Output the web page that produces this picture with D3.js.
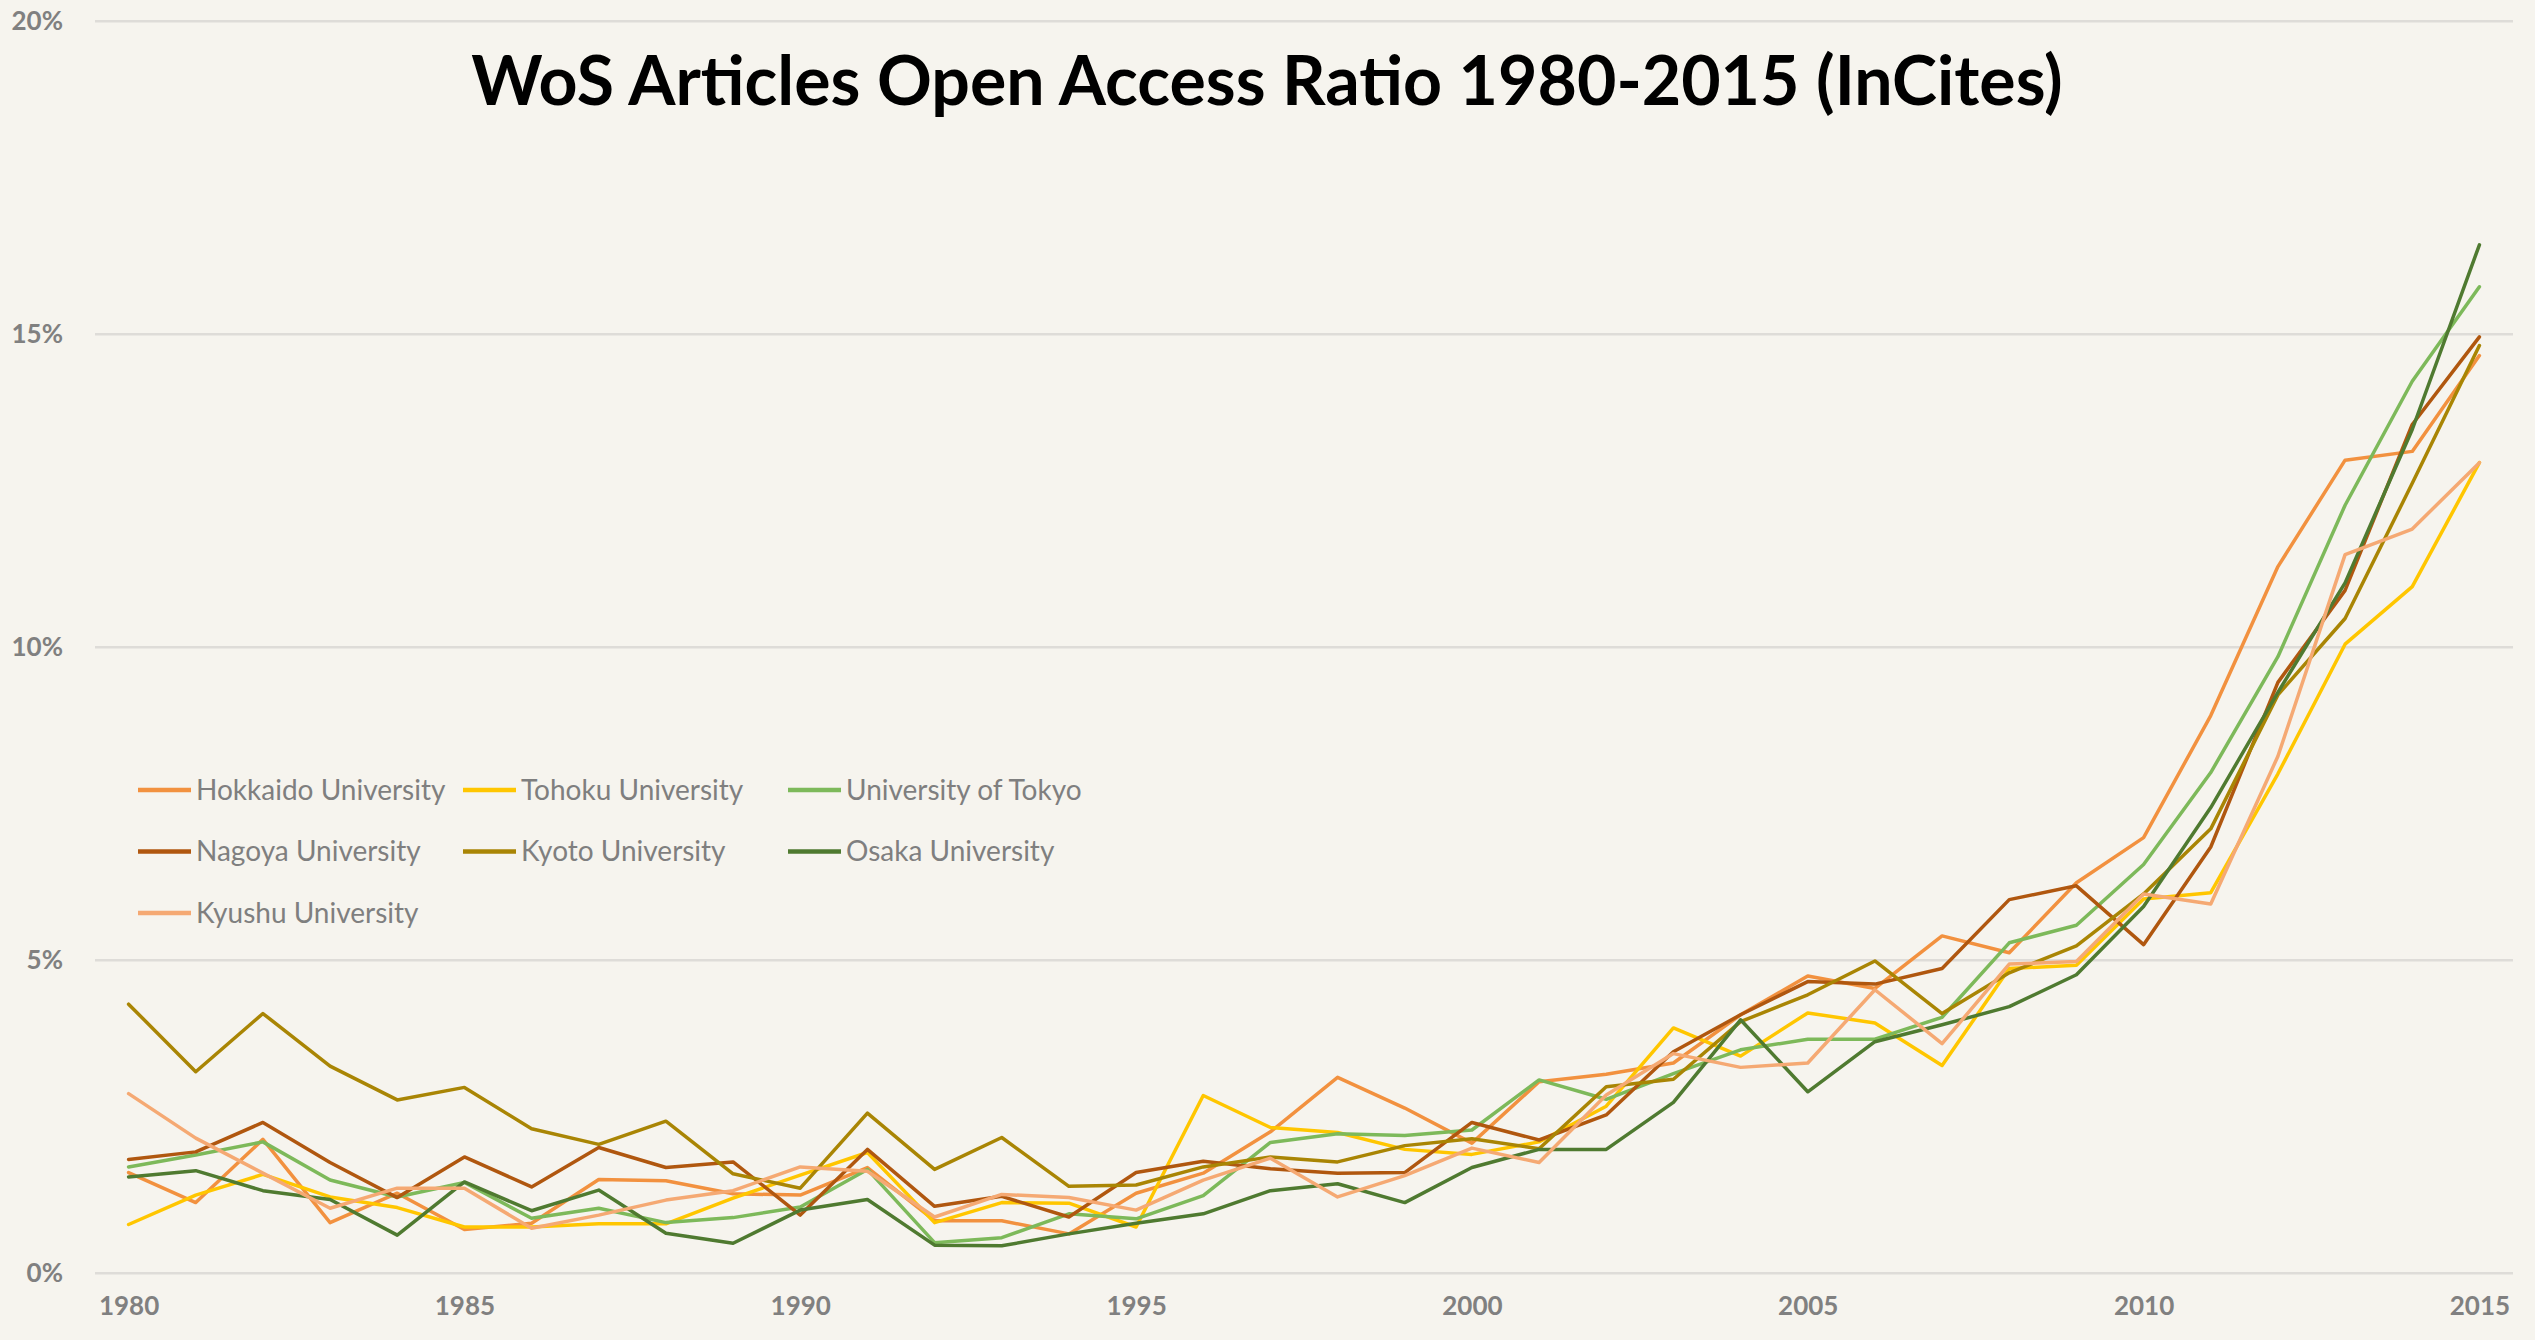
<!DOCTYPE html>
<html lang="en">
<head>
<meta charset="UTF-8">
<title>WoS Articles Open Access Ratio</title>
<script src="https://d3js.org/d3.v7.min.js"></script>
<style>
  body { margin: 0; background: #f6f4ee; }
  text { font-family: "Lato", "Open Sans", sans-serif; }
</style>
</head>
<body>
<script>
// data (percent)
var years = d3.range(1980, 2016);
var universities = ["Hokkaido University", "Tohoku University", "University of Tokyo",
  "Nagoya University", "Kyoto University", "Osaka University", "Kyushu University"];
var colors = ["#f2913f", "#ffc600", "#7db95a", "#b0570f", "#a98504", "#4f7a30", "#f5a973"];

var hokkaido = [1.60,1.12,2.13,0.80,1.27,0.69,0.79,1.49,1.47,1.26,1.24,1.68,0.83,0.83,0.62,1.27,1.59,2.25,3.12,2.63,2.07,3.05,3.17,3.35,4.12,4.74,4.54,5.38,5.11,6.23,6.95,8.90,11.28,12.98,13.12,14.65];
var tohoku   = [0.77,1.24,1.57,1.21,1.04,0.73,0.73,0.78,0.78,1.19,1.56,1.92,0.80,1.12,1.11,0.73,2.83,2.32,2.24,1.97,1.89,2.09,2.66,3.91,3.46,4.15,3.99,3.31,4.86,4.91,5.97,6.07,7.97,10.04,10.96,12.94];
var tokyo    = [1.69,1.88,2.09,1.48,1.21,1.44,0.87,1.03,0.80,0.88,1.05,1.65,0.48,0.56,0.94,0.86,1.23,2.08,2.22,2.19,2.28,3.08,2.77,3.18,3.56,3.73,3.73,4.08,5.27,5.55,6.52,7.99,9.84,12.26,14.24,15.75];
var nagoya   = [1.81,1.93,2.40,1.76,1.20,1.85,1.37,2.00,1.68,1.77,0.92,1.97,1.06,1.22,0.89,1.60,1.78,1.66,1.59,1.60,2.40,2.12,2.52,3.53,4.12,4.65,4.61,4.86,5.96,6.18,5.24,6.80,9.43,10.90,13.55,14.95];
var kyoto    = [4.29,3.21,4.14,3.30,2.76,2.96,2.30,2.05,2.42,1.58,1.35,2.55,1.65,2.16,1.38,1.40,1.69,1.85,1.77,2.03,2.14,1.98,2.97,3.09,4.01,4.44,4.98,4.14,4.79,5.22,6.05,7.09,9.23,10.45,12.61,14.81];
var osaka    = [1.53,1.63,1.31,1.17,0.60,1.45,0.99,1.32,0.63,0.47,1.00,1.17,0.44,0.43,0.62,0.79,0.94,1.31,1.42,1.12,1.68,1.97,1.97,2.72,4.04,2.89,3.69,3.96,4.25,4.76,5.85,7.43,9.27,11.02,13.47,16.42];
var kyushu   = [2.86,2.15,1.59,1.03,1.35,1.35,0.71,0.92,1.16,1.31,1.69,1.62,0.89,1.25,1.20,1.00,1.48,1.83,1.21,1.55,1.99,1.76,2.84,3.50,3.28,3.35,4.52,3.66,4.93,4.97,6.05,5.89,8.25,11.47,11.88,12.94];

var yTicks = [0, 5, 10, 15, 20];
var xTicks = [1980, 1985, 1990, 1995, 2000, 2005, 2010, 2015];
var title = "WoS Articles Open Access Ratio 1980-2015 (InCites)";

var series = [hokkaido, tohoku, tokyo, nagoya, kyoto, osaka, kyushu];

var W = 2535, H = 1340;
var svg = d3.select("body").append("svg").attr("width", W).attr("height", H);

var x = d3.scaleLinear().domain([1979.5, 2015.5]).range([95, 2513]);
var y = d3.scaleLinear().domain([0, 20]).range([1272.7, 20.7]);

// gridlines + y labels
var yAxis = d3.axisLeft(y).tickValues(yTicks).tickSize(-(2513 - 95)).tickPadding(32)
  .tickFormat(function(d){ return d + "%"; });
var gy = svg.append("g").attr("transform", "translate(95,0)").call(yAxis);
gy.select(".domain").remove();
gy.selectAll("line").style("stroke", "#dedcd8").style("stroke-width", 2.5);
gy.selectAll("text").style("fill", "#808080").style("font-size", "26px").style("font-weight", "bold")
  .attr("dy", "0.35em");

// x labels
var xAxis = d3.axisBottom(x).tickValues(xTicks).tickSize(0).tickPadding(24).tickFormat(d3.format("d"));
var gx = svg.append("g").attr("transform", "translate(0,1272.7)").call(xAxis);
gx.select(".domain").remove();
gx.selectAll("text").style("fill", "#808080").style("font-size", "26px").style("font-weight", "bold");

// lines
var line = d3.line().x(function(d, i){ return x(years[i]); }).y(function(d){ return y(d); });
svg.selectAll(".series").data(series).enter()
  .append("path")
  .attr("class", "series")
  .attr("d", line)
  .style("fill", "none")
  .style("stroke", function(d, i){ return colors[i]; })
  .style("stroke-width", 3.5)
  .style("stroke-linejoin", "round")
  .style("stroke-linecap", "round");

// title
svg.append("text")
  .attr("x", 1267).attr("y", 105)
  .attr("text-anchor", "middle")
  .style("font-size", "68px").style("font-weight", "bold").style("fill", "#000")
  .text(title);

// legend
var legend = svg.selectAll(".legend").data(universities).enter()
  .append("g").attr("class", "legend")
  .attr("transform", function(d, i){ return "translate(" + (138 + (i % 3) * 325) + "," + (790 + Math.floor(i / 3) * 61.5) + ")"; });
legend.append("line")
  .attr("x1", 0).attr("x2", 53).attr("y1", 0).attr("y2", 0)
  .style("stroke", function(d, i){ return colors[i]; })
  .style("stroke-width", 4.5);
legend.append("text")
  .attr("x", 58).attr("y", 0).attr("dy", "0.35em")
  .style("font-size", "28px").style("fill", "#7f7f7f")
  .text(function(d){ return d; });
</script>
</body>
</html>
